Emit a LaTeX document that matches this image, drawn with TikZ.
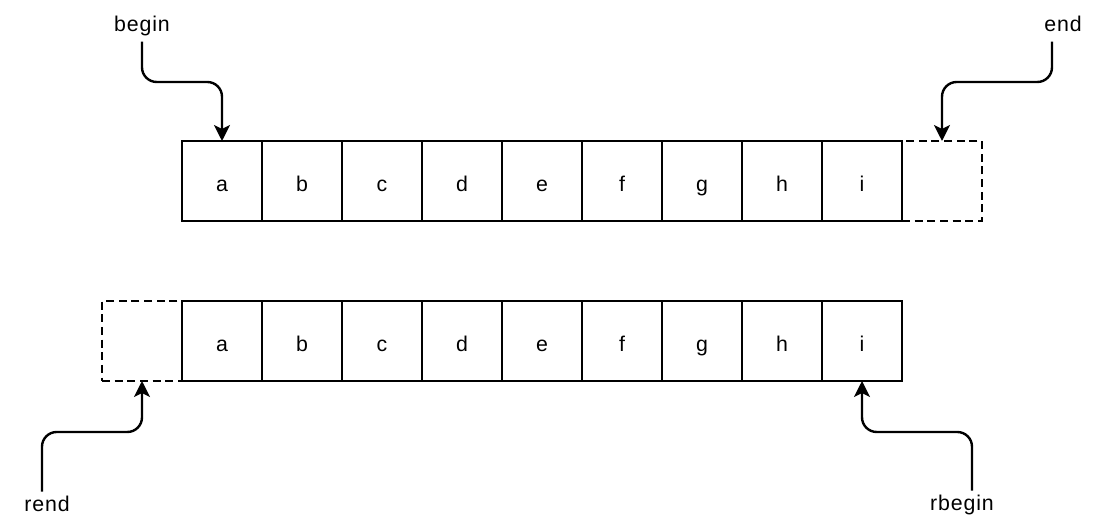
\documentclass[tikz,border=0pt]{standalone}
\usepackage{fontspec}
\setmainfont[LetterSpace=4]{Liberation Sans}
\usetikzlibrary{positioning}
\usetikzlibrary{arrows.meta}

\begin{document}
\begin{tikzpicture}[x=0.75pt, y=-0.75pt, >={Stealth[length=12pt, width=12pt, inset=3pt]},
                    font=\fontsize{16}{19}\selectfont,
                    cell/.style={draw, line width=1.4pt, minimum size=60pt, inner sep=0pt, outer sep=0pt,
                                 text height=16pt, text depth=0pt},
                    ghost/.style={cell, dash pattern=on 6pt off 3.5pt},
                    lbl/.style={anchor=base, inner sep=4.5pt, text height=1.05em, text depth=0.25em},
                    ptr/.style={->, line width=1.8pt, rounded corners=11pt}]
    \useasboundingbox (0,0) rectangle (1104,523);

    % forward range
    \node[cell] (t1) at (222,181) {a};
    \foreach \c [count=\i from 2] in {b,c,d,e,f,g,h,i} {
        \pgfmathtruncatemacro{\p}{\i-1}
        \node[cell, right=0pt of t\p] (t\i) {\c};
    }
    \node[ghost, right=0pt of t9] (tend) {};

    % reverse range
    \node[cell] (b1) at (222,341) {a};
    \foreach \c [count=\i from 2] in {b,c,d,e,f,g,h,i} {
        \pgfmathtruncatemacro{\p}{\i-1}
        \node[cell, right=0pt of b\p] (b\i) {\c};
    }
    \node[ghost, left=0pt of b1] (bend) {};

    % iterators
    \node[lbl] (lbegin) at (142,32) {begin};
    \node[lbl] (lend) at (1063,32) {end};
    \node[lbl] (lrend) at (47,512) {rend};
    \node[lbl] (lrbegin) at (962,511) {rbegin};

    \coordinate (kbegin) at (182,82);
    \coordinate (kend) at (1000,82);
    \coordinate (krend) at (90,432);
    \coordinate (krbegin) at (920,432);

    \draw[ptr] (lbegin) |- (kbegin) -| (t1);
    \draw[ptr] ([xshift=-8.25pt]lend.south) |- (kend) -| (tend);
    \draw[ptr] ([xshift=-3.75pt]lrend.north) |- (krend) -| (bend);
    \draw[ptr] ([xshift=7.5pt]lrbegin.north) |- (krbegin) -| (b9);
\end{tikzpicture}
\end{document}
